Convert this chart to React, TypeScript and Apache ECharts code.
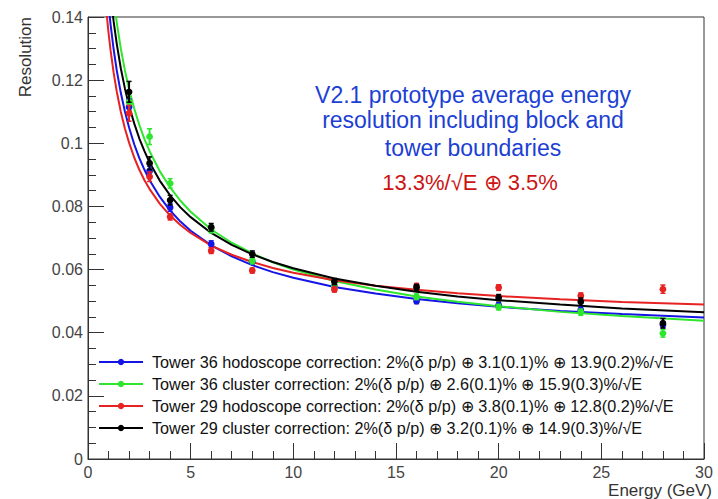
import React, { useEffect, useRef } from "react";
import * as echarts from "echarts";

// Measured points (Energy in GeV)
const energies = [2, 3, 4, 6, 8, 12, 16, 20, 24, 28];
const blue36Hodo = [0.1115, 0.0912, 0.0797, 0.0681, 0.0625, 0.0548, 0.05, 0.0487, 0.0472, 0.0425];
const blue36HodoErr = [0.0025, 0.0015, 0.0012, 0.001, 0.0008, 0.0008, 0.0008, 0.0008, 0.0009, 0.001];
const green36Clus = [0.113, 0.1021, 0.0873, 0.0728, 0.0628, 0.0548, 0.0514, 0.0481, 0.0465, 0.0398];
const green36ClusErr = [0.003, 0.0025, 0.0015, 0.0012, 0.001, 0.0009, 0.0009, 0.0009, 0.001, 0.0012];
const red29Hodo = [0.1095, 0.0894, 0.0767, 0.066, 0.0597, 0.0537, 0.0548, 0.0543, 0.0517, 0.0538];
const red29HodoErr = [0.0025, 0.0015, 0.001, 0.0009, 0.0008, 0.0008, 0.0008, 0.0009, 0.0009, 0.0013];
const black29Clus = [0.1163, 0.0937, 0.082, 0.0734, 0.0649, 0.0562, 0.0543, 0.0511, 0.0498, 0.043];
const black29ClusErr = [0.0033, 0.002, 0.0015, 0.0012, 0.001, 0.001, 0.001, 0.001, 0.0012, 0.0015];

// Fit curves
const fitE = [0.75, 0.9, 1, 1.1, 1.25, 1.4, 1.6, 1.8, 2, 2.25, 2.5, 2.75, 3, 3.5, 4, 4.5, 5, 6, 7, 8, 9, 10, 12, 14, 16, 18, 20, 23, 26, 30];
const blueFit = [0.1647, 0.1511, 0.1438, 0.1376, 0.1297, 0.1231, 0.1159, 0.11, 0.105, 0.0997, 0.0953, 0.0916, 0.0883, 0.083, 0.0787, 0.0752, 0.0723, 0.0677, 0.0642, 0.0614, 0.0592, 0.0574, 0.0545, 0.0524, 0.0507, 0.0493, 0.0482, 0.0469, 0.0459, 0.0448];
const greenFit = [0.1865, 0.1708, 0.1623, 0.1551, 0.1459, 0.1383, 0.1299, 0.123, 0.1171, 0.111, 0.1058, 0.1013, 0.0975, 0.0911, 0.086, 0.0818, 0.0783, 0.0727, 0.0685, 0.0651, 0.0623, 0.06, 0.0564, 0.0537, 0.0515, 0.0498, 0.0484, 0.0466, 0.0453, 0.0438];
const redFit = [0.1539, 0.1416, 0.135, 0.1294, 0.1223, 0.1164, 0.1099, 0.1046, 0.1002, 0.0955, 0.0916, 0.0883, 0.0855, 0.0808, 0.0771, 0.0741, 0.0716, 0.0676, 0.0647, 0.0624, 0.0605, 0.059, 0.0566, 0.0549, 0.0536, 0.0525, 0.0516, 0.0506, 0.0497, 0.0489];
const blackFit = [0.1761, 0.1615, 0.1537, 0.147, 0.1385, 0.1315, 0.1237, 0.1173, 0.1119, 0.1063, 0.1015, 0.0975, 0.0939, 0.0881, 0.0835, 0.0797, 0.0766, 0.0716, 0.0678, 0.0648, 0.0624, 0.0604, 0.0572, 0.0549, 0.053, 0.0515, 0.0503, 0.0489, 0.0477, 0.0465];

const seriesNames = [
  "Tower 36 hodoscope correction: 2%(δ p/p) ⊕ 3.1(0.1)% ⊕ 13.9(0.2)%/√E",
  "Tower 36 cluster correction: 2%(δ p/p) ⊕ 2.6(0.1)% ⊕ 15.9(0.3)%/√E",
  "Tower 29 hodoscope correction: 2%(δ p/p) ⊕ 3.8(0.1)% ⊕ 12.8(0.2)%/√E",
  "Tower 29 cluster correction: 2%(δ p/p) ⊕ 3.2(0.1)% ⊕ 14.9(0.3)%/√E",
];
const seriesColors = ["#1414e6", "#2ee62e", "#e62222", "#000000"];

const annotationLines = [
  "V2.1 prototype average energy",
  "resolution including block and",
  "tower boundaries",
];
const formulaText = "13.3%/√E ⊕ 3.5%";

const FONT = "'Liberation Sans', Arial, Helvetica, sans-serif";

export default function App() {
  const ref = useRef<HTMLDivElement>(null);

  useEffect(() => {
    if (!ref.current) return;
    const chart = echarts.init(ref.current, null, { renderer: "svg" });

    const fits = [blueFit, greenFit, redFit, blackFit];
    const pts = [blue36Hodo, green36Clus, red29Hodo, black29Clus];
    const errs = [blue36HodoErr, green36ClusErr, red29HodoErr, black29ClusErr];

    const lineSeries = fits.map((f, k) => ({
      type: "line",
      name: seriesNames[k],
      data: fitE.map((e, i) => [e, f[i]]),
      smooth: false,
      showSymbol: false,
      symbol: "circle",
      symbolSize: 6,
      color: seriesColors[k],
      lineStyle: { width: 2, color: seriesColors[k] },
      itemStyle: { color: seriesColors[k] },
      clip: true,
      z: 2,
      silent: true,
    }));

    const pointSeries = pts.map((p, k) => ({
      type: "custom",
      name: "pts" + k,
      data: energies.map((e, i) => [e, p[i], errs[k][i]]),
      encode: { x: 0, y: 1 },
      z: 3,
      silent: true,
      renderItem: (params: any, api: any) => {
        const x = api.value(0);
        const y = api.value(1);
        const e = api.value(2);
        const c = api.coord([x, y]);
        const top = api.coord([x, y + e]);
        const bot = api.coord([x, y - e]);
        const col = seriesColors[k];
        return {
          type: "group",
          children: [
            { type: "line", shape: { x1: top[0], y1: top[1], x2: bot[0], y2: bot[1] }, style: { stroke: col, lineWidth: 2 } },
            { type: "line", shape: { x1: top[0] - 2.5, y1: top[1], x2: top[0] + 2.5, y2: top[1] }, style: { stroke: col, lineWidth: 1.5 } },
            { type: "line", shape: { x1: bot[0] - 2.5, y1: bot[1], x2: bot[0] + 2.5, y2: bot[1] }, style: { stroke: col, lineWidth: 1.5 } },
            { type: "circle", shape: { cx: c[0], cy: c[1], r: 3.4 }, style: { fill: col } },
          ],
        };
      },
    }));

    const graphics: any[] = annotationLines.map((t, i) => ({
      type: "text",
      x: 473,
      y: [95, 120, 148][i],
      style: {
        text: t,
        fill: "#1c3fd4",
        font: `23px ${FONT}`,
        align: "center",
        verticalAlign: "middle",
      },
    }));
    graphics.push({
      type: "text",
      x: 470,
      y: 182,
      style: { text: formulaText, fill: "#cc1414", font: `22px ${FONT}`, align: "center", verticalAlign: "middle" },
    });
    graphics.push({
      type: "text",
      x: 25,
      y: 17,
      rotation: Math.PI / 2,
      style: { text: "Resolution", fill: "#333", font: `17px ${FONT}`, align: "right", verticalAlign: "middle" },
    });
    graphics.push({
      type: "text",
      x: 712,
      y: 490,
      style: { text: "Energy (GeV)", fill: "#333", font: `17px ${FONT}`, align: "right", verticalAlign: "middle" },
    });

    chart.setOption({
      animation: false,
      backgroundColor: "#ffffff",
      grid: {
        left: 88,
        right: 14,
        top: 17,
        bottom: 40,
        show: true,
        borderColor: "#333",
        borderWidth: 1,
        backgroundColor: "transparent",
      },
      xAxis: {
        type: "value",
        min: 0,
        max: 30,
        interval: 5,
        axisLine: { show: true, onZero: false, lineStyle: { color: "#333", width: 1 } },
        axisTick: { show: true, inside: true, length: 16, lineStyle: { color: "#333" } },
        minorTick: { show: true, splitNumber: 5, length: 8, lineStyle: { color: "#333" } },
        splitLine: { show: false },
        axisLabel: { fontSize: 16, color: "#444", margin: 5, fontFamily: FONT },
      },
      yAxis: {
        type: "value",
        min: 0,
        max: 0.14,
        interval: 0.02,
        axisLine: { show: true, onZero: false, lineStyle: { color: "#333", width: 1 } },
        axisTick: { show: true, inside: true, length: 16, lineStyle: { color: "#333" } },
        minorTick: { show: true, splitNumber: 4, length: 8, lineStyle: { color: "#333" } },
        splitLine: { show: false },
        axisLabel: {
          fontSize: 16,
          color: "#444",
          margin: 5,
          fontFamily: FONT,
          formatter: (v: number) => String(+v.toFixed(2)),
        },
      },
      legend: {
        data: seriesNames,
        orient: "vertical",
        left: 98,
        top: 354,
        itemWidth: 44,
        itemHeight: 8,
        itemGap: 6,
        padding: 0,
        selectedMode: false,
        textStyle: { fontSize: 16.2, color: "#111", fontFamily: FONT, padding: [0, 0, 0, 4] },
      },
      graphic: graphics,
      series: [...lineSeries, ...pointSeries],
    });

    return () => chart.dispose();
  }, []);

  return (
    <div
      ref={ref}
      style={{ position: "fixed", left: 0, top: 0, width: 718, height: 499, background: "#fff" }}
    />
  );
}
